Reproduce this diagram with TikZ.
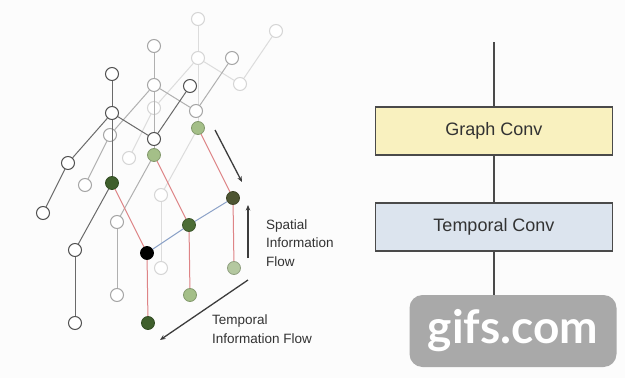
\documentclass[tikz,border=0pt]{standalone}
\usepackage{fontspec}
\setmainfont{Liberation Sans}
\newfontfamily\wmfont{Lato}
\usetikzlibrary{arrows.meta}
\definecolor{bgc}{HTML}{FCFCFC}
\definecolor{gA}{HTML}{505050}
\definecolor{gB}{HTML}{A5A5A5}
\definecolor{gC}{HTML}{D5D5D5}
\definecolor{lA}{HTML}{6A6A6A}
\definecolor{lB}{HTML}{B0B0B0}
\definecolor{lC}{HTML}{DCDCDC}
\definecolor{dgreen}{HTML}{3F5F2C}
\definecolor{mgreen}{HTML}{4C6D36}
\definecolor{olive}{HTML}{4E5632}
\definecolor{lgreen}{HTML}{A4BF88}
\definecolor{pgreen}{HTML}{B4C8A0}
\definecolor{redl}{HTML}{DE8486}
\definecolor{bluel}{HTML}{8CA2C8}
\definecolor{arr}{HTML}{3C3C3C}
\definecolor{boxy}{HTML}{F9F1BF}
\definecolor{boxb}{HTML}{DCE4EE}
\definecolor{boxd}{HTML}{4A4A4A}
\definecolor{boxt}{HTML}{333333}
\definecolor{wmg}{HTML}{A9A9A9}
\tikzset{
  jt/.style={circle,minimum size=13pt,inner sep=0pt,fill=white,line width=1pt},
  hl/.style={circle,minimum size=13pt,inner sep=0pt,line width=0.8pt},
  bone/.style={line width=1pt},
  rededge/.style={redl,line width=1pt},
  blueedge/.style={bluel,line width=1pt},
  flowarrow/.style={arr,line width=1.3pt,-{Stealth[length=5.5pt,width=4.5pt]}},
  flowlabel/.style={font=\fontsize{13.5}{18.5}\selectfont,text=boxt,align=left,anchor=west,inner sep=0pt},
  convbox/.style={draw=boxd,line width=1.5pt,minimum width=237pt,minimum height=48pt,inner sep=0pt,font=\fontsize{18}{20}\selectfont,text=boxt},
  pipe/.style={boxd,line width=1.5pt}
}
% #1 prefix, #2 dx, #3 dy, #4 node colour, #5 line colour, #6 hip fill, #7 knee fill, #8 foot fill
\newcommand\drawskel[8]{%
\begin{scope}[shift={(#2,#3)}]
  \node[jt,draw=#4] (#1head)  at (112,74)  {};
  \node[jt,draw=#4] (#1neck)  at (112,113) {};
  \node[jt,draw=#4] (#1lsh)   at (68,163)  {};
  \node[jt,draw=#4] (#1lhand) at (43,213)  {};
  \node[jt,draw=#4] (#1rsh)   at (154,139) {};
  \node[jt,draw=#4] (#1rhand) at (190,86)  {};
  \node[jt,draw=#4] (#1lknee) at (75,250)  {};
  \node[jt,draw=#4] (#1lfoot) at (75,323)  {};
  \node[hl,fill=#6,draw=#6!80!black] (#1hip)   at (112,183) {};
  \node[hl,fill=#7,draw=#7!80!black] (#1rknee) at (147,253) {};
  \node[hl,fill=#8,draw=#8!80!black] (#1rfoot) at (148,323) {};
  \draw[bone,#5] (#1head) -- (#1neck);
  \draw[bone,#5] (#1neck) -- (#1lsh);
  \draw[bone,#5] (#1lsh) -- (#1lhand);
  \draw[bone,#5] (#1neck) -- (#1rsh);
  \draw[bone,#5] (#1rsh) -- (#1rhand);
  \draw[bone,#5] (#1neck) -- (#1hip);
  \draw[bone,#5] (#1hip) -- (#1lknee);
  \draw[bone,#5] (#1lknee) -- (#1lfoot);
  \draw[rededge] (#1hip) -- (#1rknee);
  \draw[rededge] (#1rknee) -- (#1rfoot);
\end{scope}}
\begin{document}
\begin{tikzpicture}[x=1pt,y=-1pt]
\useasboundingbox (0,0) rectangle (625,378);
\fill[bgc] (0,0) rectangle (625,378);
% skeleton frames, back to front
\drawskel{c}{86}{-55}{gC}{lC}{lgreen}{olive}{pgreen}
\drawskel{b}{42}{-28}{gB}{lB}{lgreen}{mgreen}{lgreen}
\drawskel{a}{0}{0}{gA}{lA}{dgreen}{black}{dgreen}
\draw[blueedge] (arknee) -- (brknee);
\draw[blueedge] (brknee) -- (crknee);
% flow arrows
\coordinate (s1a) at (215,130); \coordinate (s1b) at (242,182);
\coordinate (s2a) at (248,258); \coordinate (s2b) at (248,205);
\coordinate (t1a) at (248,280); \coordinate (t1b) at (160,340);
\draw[flowarrow] (s1a) -- (s1b);
\draw[flowarrow] (s2a) -- (s2b);
\draw[flowarrow] (t1a) -- (t1b);
\node[flowlabel] (spatial) at (266,243) {Spatial\\Information\\Flow};
\node[flowlabel] (temporal) at (212,329) {Temporal\\Information Flow};
% right block
\coordinate (top) at (494,42);
\node[convbox,fill=boxy] (gconv) at (494,131) {Graph Conv};
\node[convbox,fill=boxb] (tconv) at (494,227) {Temporal Conv};
\node[fill=wmg,rounded corners=13pt,minimum width=207pt,minimum height=72pt,inner sep=0pt,text=white,font=\wmfont\bfseries\fontsize{46}{46}\selectfont] (wm) at (513,331) {gifs.com};
\draw[pipe] (top) -- (gconv.north);
\draw[pipe] (gconv) -- (tconv);
\draw[pipe] (tconv) -- (tconv.south |- wm.north);
\end{tikzpicture}
\end{document}
